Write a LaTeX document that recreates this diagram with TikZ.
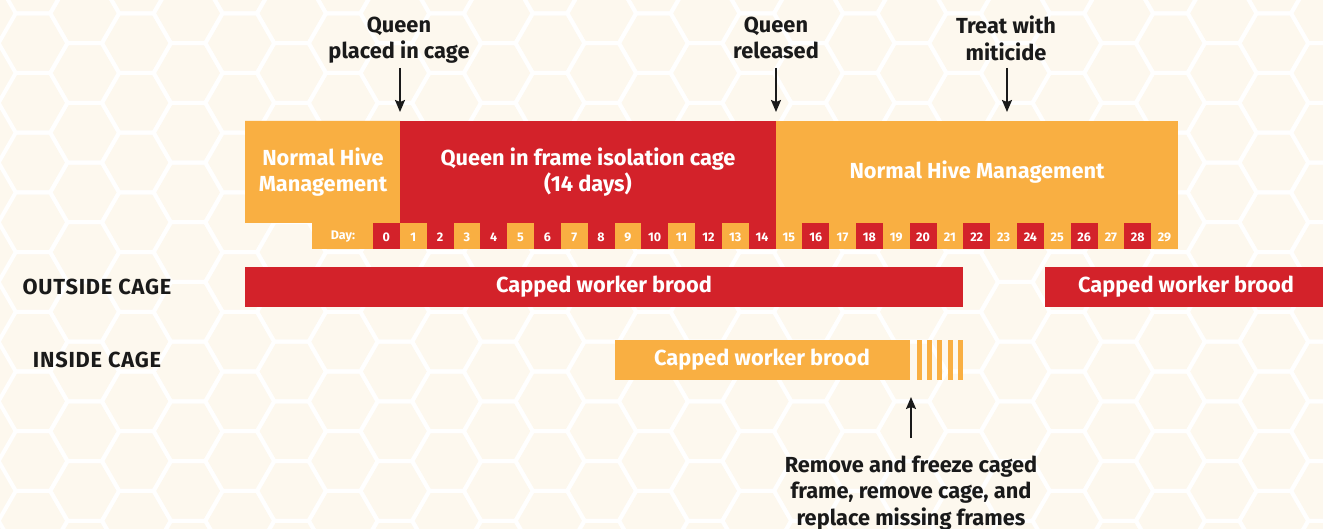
\documentclass[tikz,border=0pt]{standalone}
\usepackage{fontspec}
\setmainfont{Fira Sans}
\usetikzlibrary{arrows.meta}
\definecolor{bg}{HTML}{FDF8EE}
\definecolor{hive}{HTML}{F9AF42}
\definecolor{cagered}{HTML}{D3222A}
\definecolor{ink}{HTML}{1A1A1A}
\begin{document}
\begin{tikzpicture}[x=1pt,y=-1pt,
  lbl/.style={font=\bfseries\fontsize{21.8}{26.5}\selectfont, text=ink, align=center, inner sep=0pt},
  caps/.style={font=\bfseries\fontsize{21.8}{26.5}\selectfont\addfontfeatures{LetterSpace=3.5}, text=ink, inner sep=0pt},
  wlbl/.style={font=\bfseries\fontsize{21.8}{26.5}\selectfont, text=white, align=center, inner sep=0pt},
  daynum/.style={font=\bfseries\fontsize{12.5}{13}\selectfont, text=white, inner sep=0pt},
  arr/.style={-{Stealth[length=12pt,width=10pt,inset=2pt]}, line width=1.8pt, draw=ink},
  hexline/.style={draw=white, line width=4pt, line join=round},
  hivebox/.style={fill=hive},
  cagebox/.style={fill=cagered},
]
\fill[bg] (0,0) rectangle (1323,529);
\useasboundingbox (0,0) rectangle (1323,529);
% honeycomb background
\begin{scope}
\clip (0,0) rectangle (1323,529);
\foreach \i in {0,...,26} {
  \pgfmathsetmacro\cx{33+51.7*\i}
  \pgfmathsetmacro\off{isodd(\i) ? 13.3 : 43.15}
  \foreach \k in {-1,...,9} {
    \pgfmathsetmacro\cy{\off+59.7*\k}
    \draw[hexline] (\cx+34.47,\cy) -- (\cx+17.235,\cy+29.85) -- (\cx-17.235,\cy+29.85)
      -- (\cx-34.47,\cy) -- (\cx-17.235,\cy-29.85) -- (\cx+17.235,\cy-29.85) -- cycle;
  }
}
\end{scope}
% top timeline boxes
\fill[hivebox] (245,121) -- (400,121) -- (400,249) -- (312,249) -- (312,223) -- (245,223) -- cycle;
\fill[cagebox] (400,121) rectangle (776,249);
\fill[hivebox] (776,121) rectangle (1178,249);
\foreach \d in {0,...,29} {
  \pgfmathsetmacro\dx{373+26.833*\d}
  \pgfmathsetmacro\dc{isodd(\d) ? "hive" : "cagered"}
  \fill[fill=\dc] (\dx,223) rectangle (\dx+26.833,249);
  \node[daynum] (day\d) at (\dx+13.4,237) {\d};
}
\node[daynum] (daylbl) at (343,237) {Day:};
\node[wlbl] (nhm1) at (323,172) {Normal Hive\\Management};
\node[wlbl] (qic) at (588,172) {Queen in frame isolation cage\\(14 days)};
\node[wlbl] (nhm2) at (977,172) {Normal Hive Management};
% event labels and arrows
\node[lbl] (ev1) at (399,40) {Queen\\placed in cage};
\node[lbl] (ev2) at (776,38) {Queen\\released};
\node[lbl] (ev3) at (1006,38.5) {Treat with\\miticide};
\coordinate (t1) at (400,112);
\coordinate (t2) at (776,112);
\coordinate (t3) at (1007,112);
\draw[arr] (400,68) -- (t1);
\draw[arr] (776,68) -- (t2);
\draw[arr] (1007,68) -- (t3);
% rows
\node[caps] (outl) at (97,287) {OUTSIDE CAGE};
\node[caps] (inl) at (97,360) {INSIDE CAGE};
\fill[cagebox] (245,267) rectangle (963,307);
\fill[cagebox] (1045,267) rectangle (1323,307);
\node[wlbl] (ob1) at (604,287) {Capped worker brood};
\node[wlbl] (ob2) at (1186,287) {Capped worker brood};
\fill[hivebox] (615,340) rectangle (910,380);
\foreach \j in {0,...,4} {
  \fill[hivebox] (917+10.2*\j,340) rectangle (922+10.2*\j,380);
}
\node[wlbl] (ib) at (762,360) {Capped worker brood};
% bottom note
\node[lbl] (note) at (911,493) {Remove and freeze caged\\frame, remove cage, and\\replace missing frames};
\coordinate (nb) at (911,397);
\draw[arr] (911,438) -- (nb);
\end{tikzpicture}
\end{document}
